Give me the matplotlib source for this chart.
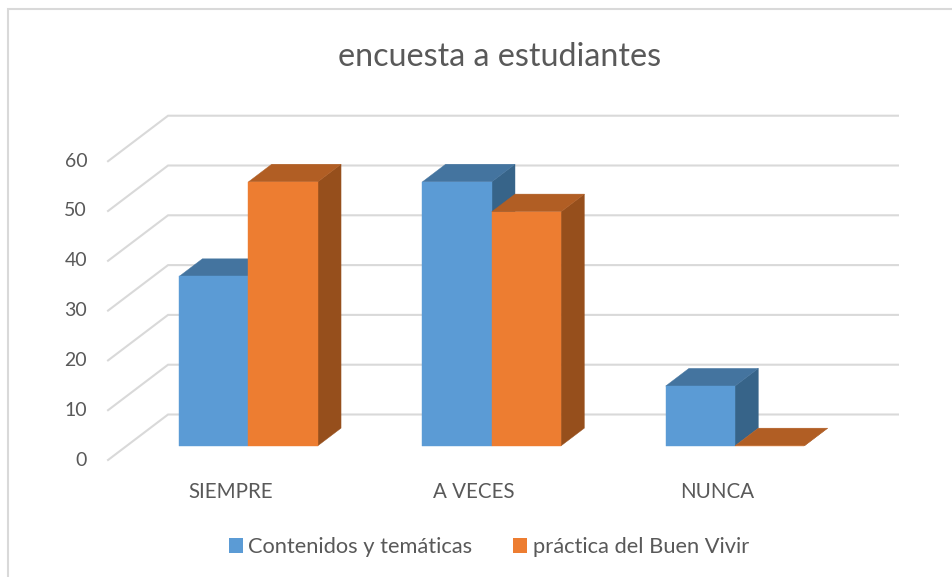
import matplotlib
matplotlib.use("Agg")
import matplotlib.pyplot as plt
from matplotlib.patches import Patch, Rectangle

plt.rcParams["font.family"] = ["Lato", "DejaVu Sans"]

# data
categories = ["SIEMPRE", "A VECES", "NUNCA"]
contenidos = [34, 53, 12]
practica = [53, 47, 0]
ticks = [0, 10, 20, 30, 40, 50, 60]
series_names = ["Contenidos y temáticas", "práctica del Buen Vivir"]
title = "encuesta a estudiantes"

# colours: front, top, side
BLUE = ("#5B9BD5", "#44749F", "#376489")
ORANGE = ("#ED7D31", "#B15E24", "#964F1C")
GRID = "#D9D9D9"
TEXT = "#595959"

W, H = 952, 577
PX_CAT = 243.3     # px per category
PX_UNIT = 4.98     # px per value unit
X0, Y0 = 229.7, 460  # px of first category centre, value 0 (front of floor)
DEPTH_X = 60 / PX_CAT    # wall offset, in category units
DEPTH_Y = 45.5 / PX_UNIT  # wall offset, in value units
BAR_W = 0.285
BAR_FRONT, BAR_BACK = 0.312, 0.70


def project(cat, val, depth=0.0):
    """category/value/depth -> 2d data coords of the oblique view"""
    return cat + depth * DEPTH_X, val + depth * DEPTH_Y


def box(ax, x0, x1, val, colors):
    front, top, side = colors
    corners = [project(x0, 0, BAR_FRONT), project(x1, 0, BAR_FRONT),
               project(x1, val, BAR_FRONT), project(x0, val, BAR_FRONT)]
    top_face = [project(x0, val, BAR_FRONT), project(x1, val, BAR_FRONT),
                project(x1, val, BAR_BACK), project(x0, val, BAR_BACK)]
    side_face = [project(x1, 0, BAR_FRONT), project(x1, 0, BAR_BACK),
                 project(x1, val, BAR_BACK), project(x1, val, BAR_FRONT)]
    for poly, col in ((side_face, side), (top_face, top), (corners, front)):
        ax.fill(*zip(*poly), color=col, lw=0.3, zorder=3)


fig = plt.figure(figsize=(W / 100, H / 100), dpi=100, facecolor="white")
ax = fig.add_axes([0, 0, 1, 1])
ax.set_xlim((0 - X0) / PX_CAT, (W - X0) / PX_CAT)
ax.set_ylim((Y0 - H) / PX_UNIT, Y0 / PX_UNIT)
ax.axis("off")

# chart border, only left and top fall inside the crop
ax.add_patch(Rectangle((8 / W, 1 - 600 / H), 1, 591 / H, transform=ax.transAxes,
                       fill=False, ec=GRID, lw=1.5, clip_on=True))

# gridlines: diagonal on the side wall, then along the back wall
left = -0.5
right = len(categories) - 0.5
for t in ticks:
    xs, ys = zip(project(left, t, 0), project(left, t, 1), project(right, t, 1))
    ax.plot(xs, ys, color=GRID, lw=1.5, solid_joinstyle="miter", zorder=1)
    ax.text(left - 0.086, t, str(t), ha="right", va="center", fontsize=14,
            color=TEXT)

# bars
for i in range(len(categories)):
    box(ax, i - BAR_W, i, contenidos[i], BLUE)
    box(ax, i, i + BAR_W, practica[i], ORANGE)
    ax.text(i + 0.005, -6.5, categories[i], ha="center", va="center",
            fontsize=14.8, color=TEXT)

fig.text(500 / W, 1 - 57.5 / H, title, ha="center", va="center", fontsize=23.2,
         color=TEXT)

handles = [Patch(color=BLUE[0], lw=0), Patch(color=ORANGE[0], lw=0)]
fig.legend(handles, series_names, loc="center", ncol=2, frameon=False,
           bbox_to_anchor=(489 / W, 1 - 547 / H), fontsize=15.75,
           labelcolor=TEXT, handlelength=0.64, handleheight=0.64,
           handletextpad=0.24, columnspacing=1.87, borderpad=0)

fig.savefig("out.png", dpi=100)
